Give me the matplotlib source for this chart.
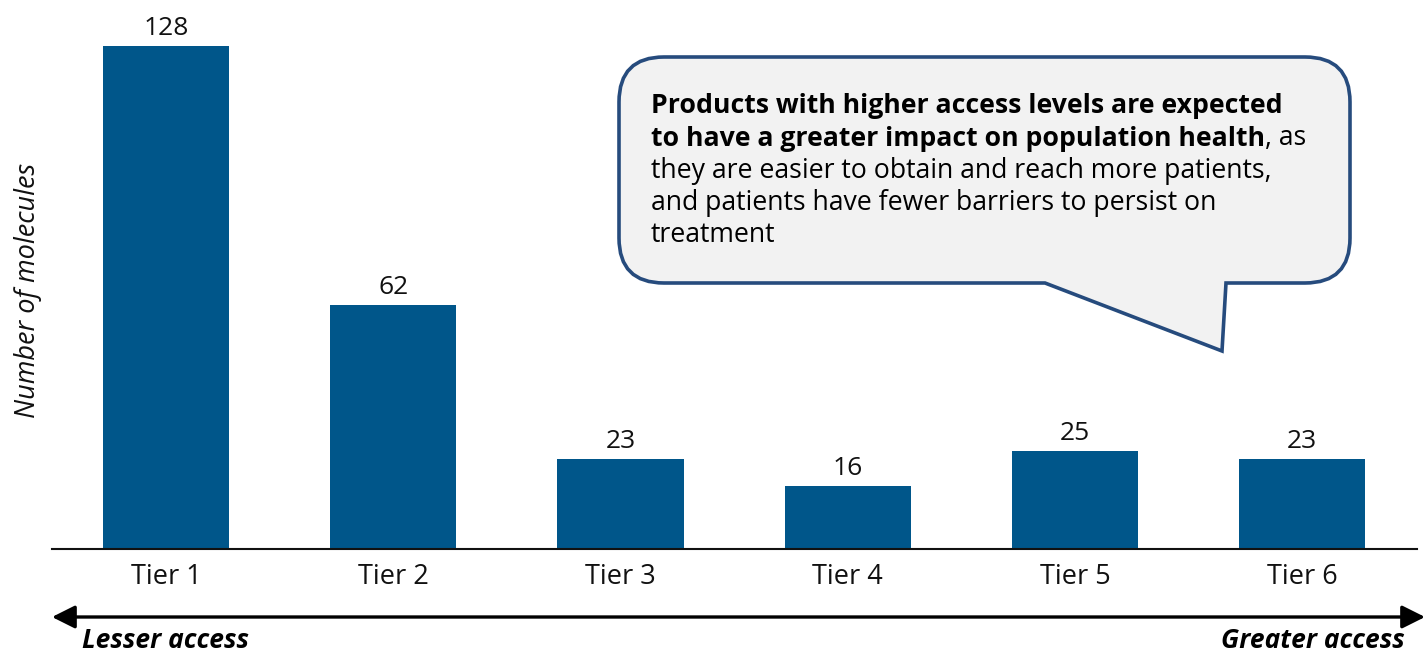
import matplotlib
matplotlib.use("Agg")
import matplotlib.pyplot as plt
from matplotlib.path import Path
from matplotlib.patches import PathPatch, FancyArrowPatch
from matplotlib.text import Annotation
import matplotlib.transforms as mtransforms

plt.rcParams['font.family'] = ['Open Sans', 'DejaVu Sans']

tiers = ["Tier 1", "Tier 2", "Tier 3", "Tier 4", "Tier 5", "Tier 6"]
molecules = [128, 62, 23, 16, 25, 23]

BAR_COLOR = "#00568a"
EDGE_COLOR = "#264b7d"
FILL_COLOR = "#f2f2f2"
TEXT_COLOR = "#111111"

W, H = 1425, 652
fig = plt.figure(figsize=(W / 100, H / 100), dpi=100)
ax = fig.add_axes([52 / W, 1 - 549 / H, (1417 - 52) / W, 549 / H])

x = list(range(len(tiers)))
ax.bar(x, molecules, width=0.555, color=BAR_COLOR)
ax.set_xlim(-0.502, 5.505)
ax.set_ylim(0, 139.7)

for xi, v in zip(x, molecules):
    ax.annotate(str(v), xy=(xi, v), xytext=(0, 3.5), textcoords="offset points",
                ha="center", va="bottom", fontsize=19, color=TEXT_COLOR)

ax.set_xticks(x)
ax.set_xticklabels(tiers, fontsize=19.5, color=TEXT_COLOR)
ax.tick_params(axis="x", length=0, pad=10)
ax.set_yticks([])
for side in ("top", "right", "left"):
    ax.spines[side].set_visible(False)
ax.spines["bottom"].set_linewidth(1.5)
ax.spines["bottom"].set_color(TEXT_COLOR)

fig.text(28 / W, 1 - 290 / H, "Number of molecules", rotation=90, style="italic",
         fontsize=19.5, ha="center", va="center", color=TEXT_COLOR)

# pixel coordinates (origin top-left) -> figure
px = mtransforms.Affine2D().scale(1 / W, -1 / H).translate(0, 1) + fig.transFigure

# access direction arrow
fig.patches.append(FancyArrowPatch(
    (52, 617), (1425, 617), transform=px, arrowstyle="<|-|>,head_length=10,head_width=5",
    mutation_scale=1.4, lw=2.4, color="black", shrinkA=0, shrinkB=0))
fig.text(82 / W, 1 - 641 / H, "Lesser access", fontsize=19, weight="bold", style="italic",
         ha="left", va="center")
fig.text(1405 / W, 1 - 641 / H, "Greater access", fontsize=19, weight="bold", style="italic",
         ha="right", va="center")

# speech-bubble callout
L, T, R, B, r = 619, 57, 1350, 283, 45
tail_l, tail_r, tip = 1045, 1226, (1222, 351)
verts = [
    (L + r, T), (R - r, T), (R, T), (R, T + r), (R, B - r), (R, B), (R - r, B),
    (tail_r, B), tip, (tail_l, B), (L + r, B), (L, B), (L, B - r),
    (L, T + r), (L, T), (L + r, T), (L + r, T),
]
codes = [
    Path.MOVETO, Path.LINETO, Path.CURVE3, Path.CURVE3, Path.LINETO, Path.CURVE3, Path.CURVE3,
    Path.LINETO, Path.LINETO, Path.LINETO, Path.LINETO, Path.CURVE3, Path.CURVE3,
    Path.LINETO, Path.CURVE3, Path.CURVE3, Path.CLOSEPOLY,
]
bubble = PathPatch(Path(verts, codes), transform=px, facecolor=FILL_COLOR,
                   edgecolor=EDGE_COLOR, lw=2.6, joinstyle="miter")
fig.patches.append(bubble)

fs = 19.2
tx = 651 / W
line_y = [106, 139, 171, 203, 235]
fig.text(tx, 1 - line_y[0] / H, "Products with higher access levels are expected",
         fontsize=fs, weight="bold", va="center", ha="left")
bold2 = fig.text(tx, 1 - line_y[1] / H, "to have a greater impact on population health",
                 fontsize=fs, weight="bold", va="center", ha="left")
tail_txt = Annotation(", as", xy=(1, 0), xycoords=bold2, fontsize=fs, va="bottom", ha="left")
tail_txt.set_figure(fig)
fig.texts.append(tail_txt)
for s, yy in zip(["they are easier to obtain and reach more patients,",
                  "and patients have fewer barriers to persist on",
                  "treatment"], line_y[2:]):
    fig.text(tx, 1 - yy / H, s, fontsize=fs, va="center", ha="left")

fig.savefig("out.png", dpi=100)
